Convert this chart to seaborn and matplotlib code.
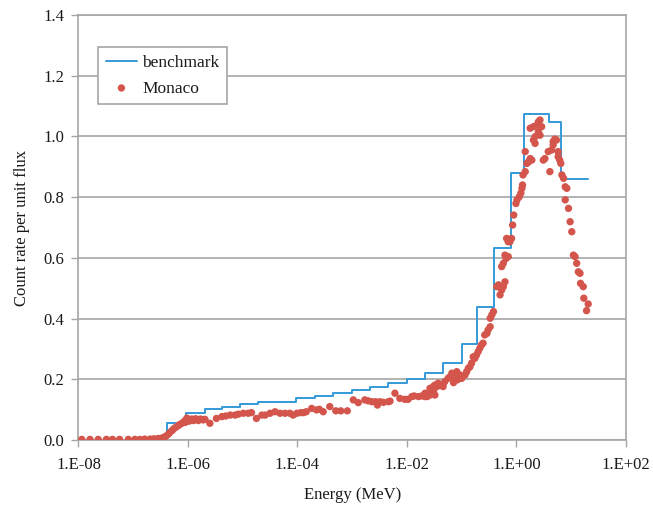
import numpy as np
import pandas as pd
import matplotlib
matplotlib.use("Agg")
import matplotlib.pyplot as plt
from matplotlib.ticker import FixedLocator, FuncFormatter, NullLocator
import seaborn as sns

# Benchmark response: group boundaries (MeV) and the value held over each group
bench_edges = [1e-8, 4.19e-7, 9.08e-7, 2.05e-6, 4.13e-6, 8.91e-6, 1.92e-5, 9.40e-5,
               2.11e-4, 4.40e-4, 9.77e-4, 2.11e-3, 4.55e-3, 9.89e-3, 2.13e-2,
               4.49e-2, 9.98e-2, 0.192, 0.388, 0.783, 1.387, 3.97, 6.50, 20.5]
bench_values = [0.0, 0.055, 0.088, 0.101, 0.110, 0.119, 0.126, 0.137, 0.146, 0.156,
                0.165, 0.174, 0.187, 0.200, 0.220, 0.253, 0.316, 0.439, 0.633,
                0.880, 1.074, 1.048, 0.859]

# Monaco results: log10 of energy (MeV) and count rate per unit flux
monaco_log_energy = [
    -7.94, -7.79, -7.64, -7.49, -7.38, -7.25, -7.09, -6.97, -6.88, -6.79, -6.69, -6.62,
    -6.54, -6.48, -6.44, -6.40, -6.36, -6.33, -6.29, -6.26, -6.22, -6.18, -6.15, -6.11,
    -6.07, -6.05, -6.04, -6.02, -6.00, -5.98, -5.96, -5.93, -5.90, -5.86, -5.81, -5.77,
    -5.72, -5.69, -5.60, -5.48, -5.38, -5.31, -5.23, -5.14, -5.08, -4.99, -4.90, -4.84,
    -4.75, -4.65, -4.59, -4.50, -4.41, -4.32, -4.23, -4.14, -4.08, -4.01, -3.94, -3.89,
    -3.84, -3.74, -3.65, -3.60, -3.53, -3.41, -3.30, -3.21, -3.09, -2.98, -2.89, -2.77,
    -2.71, -2.64, -2.57, -2.54, -2.49, -2.43, -2.34, -2.31, -2.22, -2.13, -2.04, -1.98,
    -1.91, -1.87, -1.79, -1.73, -1.67, -1.67, -1.63, -1.58, -1.58, -1.55, -1.52, -1.51,
    -1.49, -1.49, -1.46, -1.43, -1.40, -1.34, -1.31, -1.25, -1.21, -1.18, -1.15, -1.12,
    -1.09, -1.08, -1.03, -1.00, -0.94, -0.91, -0.88, -0.85, -0.82, -0.79, -0.76, -0.73,
    -0.70, -0.67, -0.64, -0.61, -0.58, -0.54, -0.52, -0.48, -0.48, -0.45, -0.42, -0.36,
    -0.33, -0.30, -0.27, -0.27, -0.24, -0.24, -0.21, -0.21, -0.19, -0.18, -0.15, -0.15,
    -0.12, -0.09, -0.07, -0.05, -0.01, 0.01, 0.05, 0.08, 0.10, 0.11, 0.12, 0.16,
    0.16, 0.19, 0.22, 0.25, 0.25, 0.28, 0.31, 0.31, 0.34, 0.34, 0.37, 0.40,
    0.40, 0.43, 0.43, 0.46, 0.49, 0.52, 0.58, 0.61, 0.64, 0.67, 0.67, 0.70,
    0.73, 0.76, 0.76, 0.79, 0.81, 0.83, 0.86, 0.89, 0.89, 0.92, 0.95, 0.98,
    1.01, 1.04, 1.07, 1.10, 1.13, 1.16, 1.17, 1.22, 1.23, 1.28, 1.31,
]
monaco_rate = [
    0.002, 0.002, 0.002, 0.002, 0.002, 0.002, 0.002, 0.002, 0.002, 0.003, 0.003, 0.004,
    0.005, 0.006, 0.009, 0.013, 0.019, 0.025, 0.031, 0.037, 0.042, 0.047, 0.051, 0.055,
    0.061, 0.058, 0.065, 0.072, 0.068, 0.062, 0.066, 0.069, 0.064, 0.070, 0.064, 0.069,
    0.066, 0.068, 0.055, 0.071, 0.077, 0.079, 0.082, 0.082, 0.085, 0.088, 0.088, 0.090,
    0.071, 0.082, 0.082, 0.088, 0.093, 0.088, 0.088, 0.088, 0.082, 0.088, 0.090, 0.090,
    0.093, 0.104, 0.099, 0.101, 0.093, 0.110, 0.096, 0.096, 0.096, 0.132, 0.123, 0.132,
    0.129, 0.126, 0.126, 0.115, 0.126, 0.124, 0.126, 0.128, 0.154, 0.137, 0.134, 0.134,
    0.143, 0.145, 0.143, 0.145, 0.143, 0.154, 0.143, 0.148, 0.170, 0.156, 0.176, 0.165,
    0.148, 0.181, 0.176, 0.187, 0.179, 0.176, 0.192, 0.203, 0.209, 0.220, 0.189, 0.209,
    0.225, 0.198, 0.214, 0.203, 0.214, 0.225, 0.236, 0.241, 0.253, 0.274, 0.269, 0.280,
    0.291, 0.302, 0.313, 0.319, 0.346, 0.351, 0.362, 0.373, 0.401, 0.412, 0.423, 0.505,
    0.511, 0.478, 0.494, 0.571, 0.505, 0.582, 0.521, 0.609, 0.598, 0.664, 0.604, 0.653,
    0.653, 0.664, 0.708, 0.741, 0.779, 0.791, 0.801, 0.813, 0.829, 0.840, 0.873, 0.884,
    0.950, 0.911, 0.916, 0.927, 1.027, 0.922, 1.032, 0.988, 0.999, 0.977, 1.037, 1.048,
    1.015, 1.054, 1.004, 1.032, 0.922, 0.927, 0.950, 0.884, 0.955, 0.983, 0.972, 0.991,
    0.988, 0.950, 0.933, 0.922, 0.911, 0.873, 0.862, 0.834, 0.791, 0.829, 0.763, 0.719,
    0.686, 0.609, 0.604, 0.582, 0.554, 0.549, 0.516, 0.505, 0.467, 0.426, 0.448,
]

x_ticks = [1e-8, 1e-6, 1e-4, 1e-2, 1e0, 1e2]
y_ticks = [0.0, 0.2, 0.4, 0.6, 0.8, 1.0, 1.2, 1.4]

sns.set_theme(style="white")
plt.rcParams["font.family"] = ["Liberation Serif", "DejaVu Serif"]
plt.rcParams["text.color"] = "#1a1a1a"
plt.rcParams["axes.labelcolor"] = "#1a1a1a"
plt.rcParams["xtick.color"] = "#1a1a1a"
plt.rcParams["ytick.color"] = "#1a1a1a"

LINE_BLUE = "#3499d6"
DOT_RED = "#d4554c"
FRAME_GREY = "#a6a6a6"
FS = 12

bench = pd.DataFrame({
    "energy": bench_edges,
    "rate": bench_values + [bench_values[-1]],
})
monaco = pd.DataFrame({
    "energy": np.power(10.0, monaco_log_energy),
    "rate": monaco_rate,
})

fig = plt.figure(figsize=(6.53, 5.08), dpi=100)
ax = fig.add_axes([0.1202, 0.1339, 0.8384, 0.8366])

sns.lineplot(data=bench, x="energy", y="rate", ax=ax, drawstyle="steps-post",
             color=LINE_BLUE, linewidth=1.4, estimator=None, sort=False,
             label="benchmark", zorder=2)
sns.scatterplot(data=monaco, x="energy", y="rate", ax=ax, color=DOT_RED, s=28,
                edgecolor="none", linewidth=0, label="Monaco", zorder=3)

ax.set_xscale("log")
ax.set_xlim(1e-8, 1e2)
ax.set_ylim(0, 1.4)
ax.xaxis.set_major_locator(FixedLocator(x_ticks))
ax.xaxis.set_minor_locator(NullLocator())
ax.xaxis.set_major_formatter(FuncFormatter(lambda v, _: f"1.E{int(round(np.log10(v))):+03d}"))
ax.yaxis.set_major_locator(FixedLocator(y_ticks))
ax.yaxis.set_major_formatter(FuncFormatter(lambda v, _: f"{v:.1f}"))

ax.grid(axis="y", color=FRAME_GREY, linewidth=1.2)
ax.grid(axis="x", visible=False)
ax.set_axisbelow(True)
for side in ["left", "right", "top", "bottom"]:
    ax.spines[side].set_visible(True)
    ax.spines[side].set_color(FRAME_GREY)
    ax.spines[side].set_linewidth(1.2)

ax.tick_params(axis="both", which="major", direction="out", length=5, width=1.0,
               color=FRAME_GREY, labelsize=FS)
ax.tick_params(axis="x", bottom=True, top=False, pad=7)
ax.tick_params(axis="y", left=True, right=False, pad=5)

ax.set_xlabel("Energy (MeV)", fontsize=FS, labelpad=10)
ax.set_ylabel("Count rate per unit flux", fontsize=FS, labelpad=10)

leg = ax.legend(loc="upper left", bbox_to_anchor=(0.0356, 0.925), borderaxespad=0,
                fontsize=FS + 0.5, frameon=True, fancybox=False, framealpha=1,
                edgecolor=FRAME_GREY, handlelength=1.8, handletextpad=0.3,
                borderpad=0.45, labelspacing=0.55, markerscale=1.0)
leg.get_frame().set_linewidth(1.2)

fig.savefig("out.png", dpi=100, facecolor="white")
